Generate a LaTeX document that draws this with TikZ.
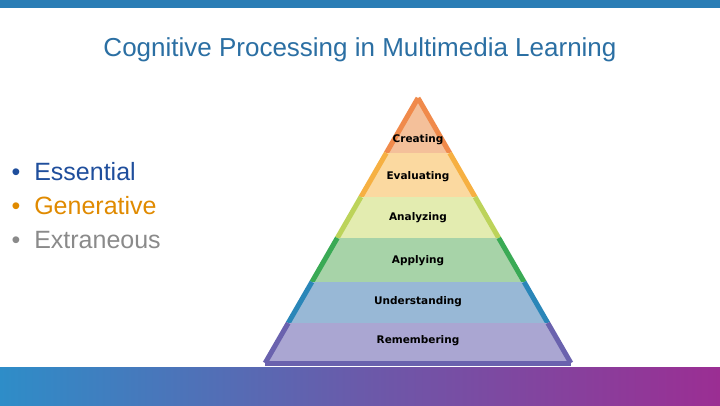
\documentclass[tikz,border=0pt]{standalone}
\usepackage{fontspec}
\setmainfont{Liberation Sans}
\newfontfamily\labelfont{DejaVu Sans}
\definecolor{barblue}{HTML}{2A7DB5}
\definecolor{titleblue}{HTML}{2B6FA3}
\definecolor{essblue}{HTML}{1F4E9C}
\definecolor{genorange}{HTML}{E08A00}
\definecolor{extgray}{HTML}{8A8A8A}
\definecolor{gradleft}{HTML}{2E8DC8}
\definecolor{gradmid}{HTML}{6A5AAA}
\definecolor{gradright}{HTML}{9B2E93}
\definecolor{creFill}{HTML}{F4C09A}\definecolor{creEdge}{HTML}{F08A4B}
\definecolor{evaFill}{HTML}{FBD9A0}\definecolor{evaEdge}{HTML}{F6B042}
\definecolor{anaFill}{HTML}{E3ECB0}\definecolor{anaEdge}{HTML}{BCD35A}
\definecolor{appFill}{HTML}{A7D3A8}\definecolor{appEdge}{HTML}{3AAA55}
\definecolor{undFill}{HTML}{98B8D6}\definecolor{undEdge}{HTML}{2A86B8}
\definecolor{remFill}{HTML}{AAA6D2}\definecolor{remEdge}{HTML}{6A62AE}
\tikzset{
  level/.style={font=\labelfont\bfseries\fontsize{10.5}{12}\selectfont, text=black},
  bullet/.style={anchor=west, font=\fontsize{25}{28}\selectfont},
}
\begin{document}
\begin{tikzpicture}[x=1pt,y=-1pt]
\useasboundingbox (0,0) rectangle (720,405);

% bars
\fill[barblue] (0,0) rectangle (720,8);
\shade[left color=gradleft, right color=gradright, middle color=gradmid] (0,367) rectangle (720,405);

% title and list
\node[font=\fontsize{26}{30}\selectfont, text=titleblue] (title) at (360,50) {Cognitive Processing in Multimedia Learning};
\node[bullet, text=essblue] (ess) at (8,172) {\textbullet\hspace{14pt}Essential};
\node[bullet, text=genorange] (gen) at (8,206) {\textbullet\hspace{14pt}Generative};
\node[bullet, text=extgray] (ext) at (8,240) {\textbullet\hspace{14pt}Extraneous};

% pyramid bands
\foreach \ytop/\ybot/\fil/\edg/\txt/\ty in {
  98/153/creFill/creEdge/Creating/140,
  153/197/evaFill/evaEdge/Evaluating/177,
  197/238/anaFill/anaEdge/Analyzing/218,
  238/282/appFill/appEdge/Applying/261,
  282/323/undFill/undEdge/Understanding/302,
  323/363/remFill/remEdge/Remembering/341}{
  \pgfmathsetmacro{\wt}{(\ytop-98)*0.5768}
  \pgfmathsetmacro{\wb}{(\ybot-98)*0.5768}
  \fill[\fil] (418-\wt,\ytop) -- (418+\wt,\ytop) -- (418+\wb,\ybot) -- (418-\wb,\ybot) -- cycle;
  \draw[\edg, line width=5pt] (418-\wt,\ytop) -- (418-\wb,\ybot);
  \draw[\edg, line width=5pt] (418+\wt,\ytop) -- (418+\wb,\ybot);
  \node[level] (lvl\txt) at (418,\ty) {\txt};
}
\draw[remEdge, line width=5pt] (265,363) -- (571,363);
\end{tikzpicture}
\end{document}
